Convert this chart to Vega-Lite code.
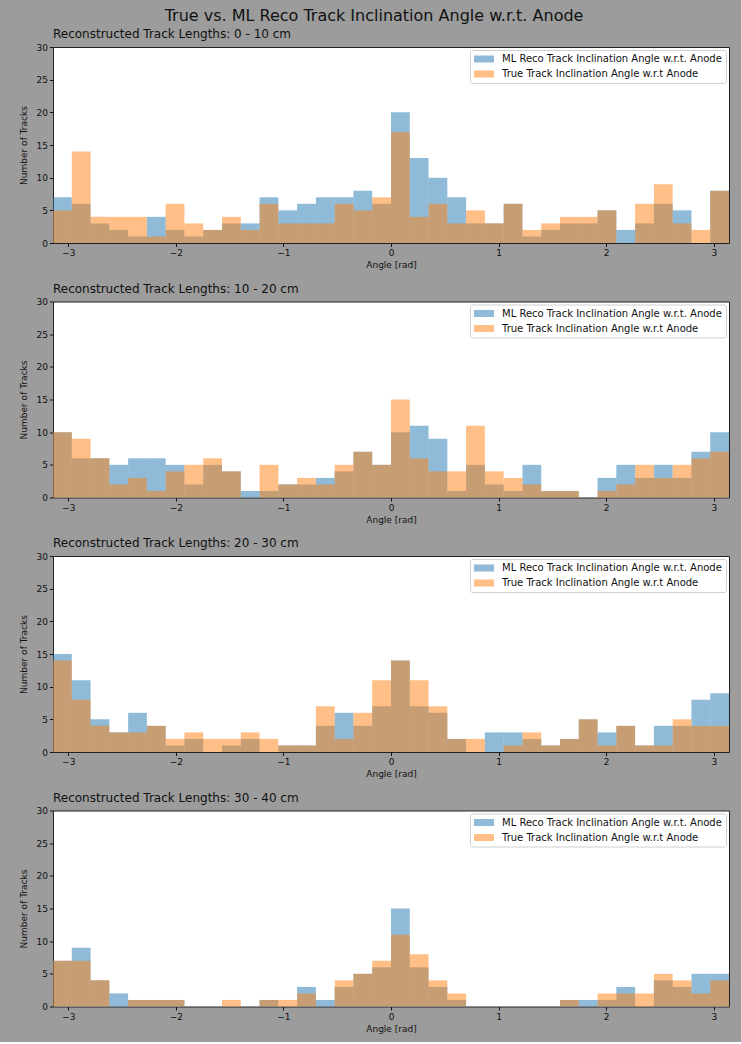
{
"$schema": "https://vega.github.io/schema/vega-lite/v6.json",
"background": "#9c9c9c",
"padding": {"left": 18, "top": 7, "right": 12, "bottom": 8},
"title": {"text": "True vs. ML Reco Track Inclination Angle w.r.t. Anode", "fontSize": 16, "font": "DejaVu Sans", "fontWeight": "normal", "color": "#111111", "anchor": "middle", "frame": "bounds", "offset": 4},
"spacing": 11.5,
"resolve": {"scale": {"color": "independent"}, "legend": {"color": "independent"}},
"data": {"values": [
{"p":1,"s":"ML","a":-3.14159,"b":-2.96706,"n":7},{"p":1,"s":"ML","a":-2.96706,"b":-2.79253,"n":6},{"p":1,"s":"ML","a":-2.79253,"b":-2.61799,"n":3},{"p":1,"s":"ML","a":-2.61799,"b":-2.44346,"n":2},{"p":1,"s":"ML","a":-2.44346,"b":-2.26893,"n":1},{"p":1,"s":"ML","a":-2.26893,"b":-2.0944,"n":4},{"p":1,"s":"ML","a":-2.0944,"b":-1.91986,"n":2},{"p":1,"s":"ML","a":-1.91986,"b":-1.74533,"n":1},{"p":1,"s":"ML","a":-1.74533,"b":-1.5708,"n":2},{"p":1,"s":"ML","a":-1.5708,"b":-1.39626,"n":3},{"p":1,"s":"ML","a":-1.39626,"b":-1.22173,"n":3},{"p":1,"s":"ML","a":-1.22173,"b":-1.0472,"n":7},{"p":1,"s":"ML","a":-1.0472,"b":-0.87266,"n":5},{"p":1,"s":"ML","a":-0.87266,"b":-0.69813,"n":6},{"p":1,"s":"ML","a":-0.69813,"b":-0.5236,"n":7},{"p":1,"s":"ML","a":-0.5236,"b":-0.34907,"n":7},{"p":1,"s":"ML","a":-0.34907,"b":-0.17453,"n":8},{"p":1,"s":"ML","a":-0.17453,"b":0,"n":6},{"p":1,"s":"ML","a":0,"b":0.17453,"n":20},{"p":1,"s":"ML","a":0.17453,"b":0.34907,"n":13},{"p":1,"s":"ML","a":0.34907,"b":0.5236,"n":10},{"p":1,"s":"ML","a":0.5236,"b":0.69813,"n":7},{"p":1,"s":"ML","a":0.69813,"b":0.87266,"n":3},{"p":1,"s":"ML","a":0.87266,"b":1.0472,"n":3},{"p":1,"s":"ML","a":1.0472,"b":1.22173,"n":6},{"p":1,"s":"ML","a":1.22173,"b":1.39626,"n":1},{"p":1,"s":"ML","a":1.39626,"b":1.5708,"n":2},{"p":1,"s":"ML","a":1.5708,"b":1.74533,"n":3},{"p":1,"s":"ML","a":1.74533,"b":1.91986,"n":3},{"p":1,"s":"ML","a":1.91986,"b":2.0944,"n":5},{"p":1,"s":"ML","a":2.0944,"b":2.26893,"n":2},{"p":1,"s":"ML","a":2.26893,"b":2.44346,"n":3},{"p":1,"s":"ML","a":2.44346,"b":2.61799,"n":6},{"p":1,"s":"ML","a":2.61799,"b":2.79253,"n":5},{"p":1,"s":"ML","a":2.79253,"b":2.96706,"n":0},{"p":1,"s":"ML","a":2.96706,"b":3.14159,"n":8},
{"p":1,"s":"T","a":-3.14159,"b":-2.96706,"n":5},{"p":1,"s":"T","a":-2.96706,"b":-2.79253,"n":14},{"p":1,"s":"T","a":-2.79253,"b":-2.61799,"n":4},{"p":1,"s":"T","a":-2.61799,"b":-2.44346,"n":4},{"p":1,"s":"T","a":-2.44346,"b":-2.26893,"n":4},{"p":1,"s":"T","a":-2.26893,"b":-2.0944,"n":1},{"p":1,"s":"T","a":-2.0944,"b":-1.91986,"n":6},{"p":1,"s":"T","a":-1.91986,"b":-1.74533,"n":3},{"p":1,"s":"T","a":-1.74533,"b":-1.5708,"n":2},{"p":1,"s":"T","a":-1.5708,"b":-1.39626,"n":4},{"p":1,"s":"T","a":-1.39626,"b":-1.22173,"n":2},{"p":1,"s":"T","a":-1.22173,"b":-1.0472,"n":6},{"p":1,"s":"T","a":-1.0472,"b":-0.87266,"n":3},{"p":1,"s":"T","a":-0.87266,"b":-0.69813,"n":3},{"p":1,"s":"T","a":-0.69813,"b":-0.5236,"n":3},{"p":1,"s":"T","a":-0.5236,"b":-0.34907,"n":6},{"p":1,"s":"T","a":-0.34907,"b":-0.17453,"n":5},{"p":1,"s":"T","a":-0.17453,"b":0,"n":7},{"p":1,"s":"T","a":0,"b":0.17453,"n":17},{"p":1,"s":"T","a":0.17453,"b":0.34907,"n":4},{"p":1,"s":"T","a":0.34907,"b":0.5236,"n":6},{"p":1,"s":"T","a":0.5236,"b":0.69813,"n":3},{"p":1,"s":"T","a":0.69813,"b":0.87266,"n":5},{"p":1,"s":"T","a":0.87266,"b":1.0472,"n":3},{"p":1,"s":"T","a":1.0472,"b":1.22173,"n":6},{"p":1,"s":"T","a":1.22173,"b":1.39626,"n":2},{"p":1,"s":"T","a":1.39626,"b":1.5708,"n":3},{"p":1,"s":"T","a":1.5708,"b":1.74533,"n":4},{"p":1,"s":"T","a":1.74533,"b":1.91986,"n":4},{"p":1,"s":"T","a":1.91986,"b":2.0944,"n":5},{"p":1,"s":"T","a":2.0944,"b":2.26893,"n":0},{"p":1,"s":"T","a":2.26893,"b":2.44346,"n":6},{"p":1,"s":"T","a":2.44346,"b":2.61799,"n":9},{"p":1,"s":"T","a":2.61799,"b":2.79253,"n":3},{"p":1,"s":"T","a":2.79253,"b":2.96706,"n":2},{"p":1,"s":"T","a":2.96706,"b":3.14159,"n":8},
{"p":2,"s":"ML","a":-3.14159,"b":-2.96706,"n":10},{"p":2,"s":"ML","a":-2.96706,"b":-2.79253,"n":6},{"p":2,"s":"ML","a":-2.79253,"b":-2.61799,"n":6},{"p":2,"s":"ML","a":-2.61799,"b":-2.44346,"n":5},{"p":2,"s":"ML","a":-2.44346,"b":-2.26893,"n":6},{"p":2,"s":"ML","a":-2.26893,"b":-2.0944,"n":6},{"p":2,"s":"ML","a":-2.0944,"b":-1.91986,"n":5},{"p":2,"s":"ML","a":-1.91986,"b":-1.74533,"n":2},{"p":2,"s":"ML","a":-1.74533,"b":-1.5708,"n":5},{"p":2,"s":"ML","a":-1.5708,"b":-1.39626,"n":4},{"p":2,"s":"ML","a":-1.39626,"b":-1.22173,"n":1},{"p":2,"s":"ML","a":-1.22173,"b":-1.0472,"n":1},{"p":2,"s":"ML","a":-1.0472,"b":-0.87266,"n":2},{"p":2,"s":"ML","a":-0.87266,"b":-0.69813,"n":2},{"p":2,"s":"ML","a":-0.69813,"b":-0.5236,"n":3},{"p":2,"s":"ML","a":-0.5236,"b":-0.34907,"n":4},{"p":2,"s":"ML","a":-0.34907,"b":-0.17453,"n":7},{"p":2,"s":"ML","a":-0.17453,"b":0,"n":5},{"p":2,"s":"ML","a":0,"b":0.17453,"n":10},{"p":2,"s":"ML","a":0.17453,"b":0.34907,"n":11},{"p":2,"s":"ML","a":0.34907,"b":0.5236,"n":9},{"p":2,"s":"ML","a":0.5236,"b":0.69813,"n":1},{"p":2,"s":"ML","a":0.69813,"b":0.87266,"n":5},{"p":2,"s":"ML","a":0.87266,"b":1.0472,"n":2},{"p":2,"s":"ML","a":1.0472,"b":1.22173,"n":1},{"p":2,"s":"ML","a":1.22173,"b":1.39626,"n":5},{"p":2,"s":"ML","a":1.39626,"b":1.5708,"n":1},{"p":2,"s":"ML","a":1.5708,"b":1.74533,"n":1},{"p":2,"s":"ML","a":1.74533,"b":1.91986,"n":0},{"p":2,"s":"ML","a":1.91986,"b":2.0944,"n":3},{"p":2,"s":"ML","a":2.0944,"b":2.26893,"n":5},{"p":2,"s":"ML","a":2.26893,"b":2.44346,"n":3},{"p":2,"s":"ML","a":2.44346,"b":2.61799,"n":5},{"p":2,"s":"ML","a":2.61799,"b":2.79253,"n":3},{"p":2,"s":"ML","a":2.79253,"b":2.96706,"n":7},{"p":2,"s":"ML","a":2.96706,"b":3.14159,"n":10},
{"p":2,"s":"T","a":-3.14159,"b":-2.96706,"n":10},{"p":2,"s":"T","a":-2.96706,"b":-2.79253,"n":9},{"p":2,"s":"T","a":-2.79253,"b":-2.61799,"n":6},{"p":2,"s":"T","a":-2.61799,"b":-2.44346,"n":2},{"p":2,"s":"T","a":-2.44346,"b":-2.26893,"n":3},{"p":2,"s":"T","a":-2.26893,"b":-2.0944,"n":1},{"p":2,"s":"T","a":-2.0944,"b":-1.91986,"n":4},{"p":2,"s":"T","a":-1.91986,"b":-1.74533,"n":5},{"p":2,"s":"T","a":-1.74533,"b":-1.5708,"n":6},{"p":2,"s":"T","a":-1.5708,"b":-1.39626,"n":4},{"p":2,"s":"T","a":-1.39626,"b":-1.22173,"n":0},{"p":2,"s":"T","a":-1.22173,"b":-1.0472,"n":5},{"p":2,"s":"T","a":-1.0472,"b":-0.87266,"n":2},{"p":2,"s":"T","a":-0.87266,"b":-0.69813,"n":3},{"p":2,"s":"T","a":-0.69813,"b":-0.5236,"n":2},{"p":2,"s":"T","a":-0.5236,"b":-0.34907,"n":5},{"p":2,"s":"T","a":-0.34907,"b":-0.17453,"n":7},{"p":2,"s":"T","a":-0.17453,"b":0,"n":5},{"p":2,"s":"T","a":0,"b":0.17453,"n":15},{"p":2,"s":"T","a":0.17453,"b":0.34907,"n":6},{"p":2,"s":"T","a":0.34907,"b":0.5236,"n":4},{"p":2,"s":"T","a":0.5236,"b":0.69813,"n":4},{"p":2,"s":"T","a":0.69813,"b":0.87266,"n":11},{"p":2,"s":"T","a":0.87266,"b":1.0472,"n":4},{"p":2,"s":"T","a":1.0472,"b":1.22173,"n":3},{"p":2,"s":"T","a":1.22173,"b":1.39626,"n":2},{"p":2,"s":"T","a":1.39626,"b":1.5708,"n":1},{"p":2,"s":"T","a":1.5708,"b":1.74533,"n":1},{"p":2,"s":"T","a":1.74533,"b":1.91986,"n":0},{"p":2,"s":"T","a":1.91986,"b":2.0944,"n":1},{"p":2,"s":"T","a":2.0944,"b":2.26893,"n":2},{"p":2,"s":"T","a":2.26893,"b":2.44346,"n":5},{"p":2,"s":"T","a":2.44346,"b":2.61799,"n":3},{"p":2,"s":"T","a":2.61799,"b":2.79253,"n":5},{"p":2,"s":"T","a":2.79253,"b":2.96706,"n":6},{"p":2,"s":"T","a":2.96706,"b":3.14159,"n":7},
{"p":3,"s":"ML","a":-3.14159,"b":-2.96706,"n":15},{"p":3,"s":"ML","a":-2.96706,"b":-2.79253,"n":11},{"p":3,"s":"ML","a":-2.79253,"b":-2.61799,"n":5},{"p":3,"s":"ML","a":-2.61799,"b":-2.44346,"n":3},{"p":3,"s":"ML","a":-2.44346,"b":-2.26893,"n":6},{"p":3,"s":"ML","a":-2.26893,"b":-2.0944,"n":4},{"p":3,"s":"ML","a":-2.0944,"b":-1.91986,"n":1},{"p":3,"s":"ML","a":-1.91986,"b":-1.74533,"n":2},{"p":3,"s":"ML","a":-1.74533,"b":-1.5708,"n":0},{"p":3,"s":"ML","a":-1.5708,"b":-1.39626,"n":1},{"p":3,"s":"ML","a":-1.39626,"b":-1.22173,"n":2},{"p":3,"s":"ML","a":-1.22173,"b":-1.0472,"n":0},{"p":3,"s":"ML","a":-1.0472,"b":-0.87266,"n":1},{"p":3,"s":"ML","a":-0.87266,"b":-0.69813,"n":1},{"p":3,"s":"ML","a":-0.69813,"b":-0.5236,"n":4},{"p":3,"s":"ML","a":-0.5236,"b":-0.34907,"n":6},{"p":3,"s":"ML","a":-0.34907,"b":-0.17453,"n":4},{"p":3,"s":"ML","a":-0.17453,"b":0,"n":7},{"p":3,"s":"ML","a":0,"b":0.17453,"n":14},{"p":3,"s":"ML","a":0.17453,"b":0.34907,"n":7},{"p":3,"s":"ML","a":0.34907,"b":0.5236,"n":6},{"p":3,"s":"ML","a":0.5236,"b":0.69813,"n":2},{"p":3,"s":"ML","a":0.69813,"b":0.87266,"n":0},{"p":3,"s":"ML","a":0.87266,"b":1.0472,"n":3},{"p":3,"s":"ML","a":1.0472,"b":1.22173,"n":3},{"p":3,"s":"ML","a":1.22173,"b":1.39626,"n":2},{"p":3,"s":"ML","a":1.39626,"b":1.5708,"n":1},{"p":3,"s":"ML","a":1.5708,"b":1.74533,"n":2},{"p":3,"s":"ML","a":1.74533,"b":1.91986,"n":5},{"p":3,"s":"ML","a":1.91986,"b":2.0944,"n":3},{"p":3,"s":"ML","a":2.0944,"b":2.26893,"n":4},{"p":3,"s":"ML","a":2.26893,"b":2.44346,"n":1},{"p":3,"s":"ML","a":2.44346,"b":2.61799,"n":4},{"p":3,"s":"ML","a":2.61799,"b":2.79253,"n":4},{"p":3,"s":"ML","a":2.79253,"b":2.96706,"n":8},{"p":3,"s":"ML","a":2.96706,"b":3.14159,"n":9},
{"p":3,"s":"T","a":-3.14159,"b":-2.96706,"n":14},{"p":3,"s":"T","a":-2.96706,"b":-2.79253,"n":8},{"p":3,"s":"T","a":-2.79253,"b":-2.61799,"n":4},{"p":3,"s":"T","a":-2.61799,"b":-2.44346,"n":3},{"p":3,"s":"T","a":-2.44346,"b":-2.26893,"n":3},{"p":3,"s":"T","a":-2.26893,"b":-2.0944,"n":4},{"p":3,"s":"T","a":-2.0944,"b":-1.91986,"n":2},{"p":3,"s":"T","a":-1.91986,"b":-1.74533,"n":3},{"p":3,"s":"T","a":-1.74533,"b":-1.5708,"n":2},{"p":3,"s":"T","a":-1.5708,"b":-1.39626,"n":2},{"p":3,"s":"T","a":-1.39626,"b":-1.22173,"n":3},{"p":3,"s":"T","a":-1.22173,"b":-1.0472,"n":2},{"p":3,"s":"T","a":-1.0472,"b":-0.87266,"n":1},{"p":3,"s":"T","a":-0.87266,"b":-0.69813,"n":1},{"p":3,"s":"T","a":-0.69813,"b":-0.5236,"n":7},{"p":3,"s":"T","a":-0.5236,"b":-0.34907,"n":2},{"p":3,"s":"T","a":-0.34907,"b":-0.17453,"n":6},{"p":3,"s":"T","a":-0.17453,"b":0,"n":11},{"p":3,"s":"T","a":0,"b":0.17453,"n":14},{"p":3,"s":"T","a":0.17453,"b":0.34907,"n":11},{"p":3,"s":"T","a":0.34907,"b":0.5236,"n":7},{"p":3,"s":"T","a":0.5236,"b":0.69813,"n":2},{"p":3,"s":"T","a":0.69813,"b":0.87266,"n":2},{"p":3,"s":"T","a":0.87266,"b":1.0472,"n":0},{"p":3,"s":"T","a":1.0472,"b":1.22173,"n":1},{"p":3,"s":"T","a":1.22173,"b":1.39626,"n":3},{"p":3,"s":"T","a":1.39626,"b":1.5708,"n":1},{"p":3,"s":"T","a":1.5708,"b":1.74533,"n":2},{"p":3,"s":"T","a":1.74533,"b":1.91986,"n":5},{"p":3,"s":"T","a":1.91986,"b":2.0944,"n":1},{"p":3,"s":"T","a":2.0944,"b":2.26893,"n":4},{"p":3,"s":"T","a":2.26893,"b":2.44346,"n":1},{"p":3,"s":"T","a":2.44346,"b":2.61799,"n":1},{"p":3,"s":"T","a":2.61799,"b":2.79253,"n":5},{"p":3,"s":"T","a":2.79253,"b":2.96706,"n":4},{"p":3,"s":"T","a":2.96706,"b":3.14159,"n":4},
{"p":4,"s":"ML","a":-3.14159,"b":-2.96706,"n":7},{"p":4,"s":"ML","a":-2.96706,"b":-2.79253,"n":9},{"p":4,"s":"ML","a":-2.79253,"b":-2.61799,"n":4},{"p":4,"s":"ML","a":-2.61799,"b":-2.44346,"n":2},{"p":4,"s":"ML","a":-2.44346,"b":-2.26893,"n":1},{"p":4,"s":"ML","a":-2.26893,"b":-2.0944,"n":1},{"p":4,"s":"ML","a":-2.0944,"b":-1.91986,"n":1},{"p":4,"s":"ML","a":-1.91986,"b":-1.74533,"n":0},{"p":4,"s":"ML","a":-1.74533,"b":-1.5708,"n":0},{"p":4,"s":"ML","a":-1.5708,"b":-1.39626,"n":0},{"p":4,"s":"ML","a":-1.39626,"b":-1.22173,"n":0},{"p":4,"s":"ML","a":-1.22173,"b":-1.0472,"n":1},{"p":4,"s":"ML","a":-1.0472,"b":-0.87266,"n":0},{"p":4,"s":"ML","a":-0.87266,"b":-0.69813,"n":3},{"p":4,"s":"ML","a":-0.69813,"b":-0.5236,"n":1},{"p":4,"s":"ML","a":-0.5236,"b":-0.34907,"n":3},{"p":4,"s":"ML","a":-0.34907,"b":-0.17453,"n":5},{"p":4,"s":"ML","a":-0.17453,"b":0,"n":6},{"p":4,"s":"ML","a":0,"b":0.17453,"n":15},{"p":4,"s":"ML","a":0.17453,"b":0.34907,"n":6},{"p":4,"s":"ML","a":0.34907,"b":0.5236,"n":3},{"p":4,"s":"ML","a":0.5236,"b":0.69813,"n":1},{"p":4,"s":"ML","a":0.69813,"b":0.87266,"n":0},{"p":4,"s":"ML","a":0.87266,"b":1.0472,"n":0},{"p":4,"s":"ML","a":1.0472,"b":1.22173,"n":0},{"p":4,"s":"ML","a":1.22173,"b":1.39626,"n":0},{"p":4,"s":"ML","a":1.39626,"b":1.5708,"n":0},{"p":4,"s":"ML","a":1.5708,"b":1.74533,"n":1},{"p":4,"s":"ML","a":1.74533,"b":1.91986,"n":1},{"p":4,"s":"ML","a":1.91986,"b":2.0944,"n":1},{"p":4,"s":"ML","a":2.0944,"b":2.26893,"n":3},{"p":4,"s":"ML","a":2.26893,"b":2.44346,"n":0},{"p":4,"s":"ML","a":2.44346,"b":2.61799,"n":4},{"p":4,"s":"ML","a":2.61799,"b":2.79253,"n":3},{"p":4,"s":"ML","a":2.79253,"b":2.96706,"n":5},{"p":4,"s":"ML","a":2.96706,"b":3.14159,"n":5},
{"p":4,"s":"T","a":-3.14159,"b":-2.96706,"n":7},{"p":4,"s":"T","a":-2.96706,"b":-2.79253,"n":7},{"p":4,"s":"T","a":-2.79253,"b":-2.61799,"n":4},{"p":4,"s":"T","a":-2.61799,"b":-2.44346,"n":0},{"p":4,"s":"T","a":-2.44346,"b":-2.26893,"n":1},{"p":4,"s":"T","a":-2.26893,"b":-2.0944,"n":1},{"p":4,"s":"T","a":-2.0944,"b":-1.91986,"n":1},{"p":4,"s":"T","a":-1.91986,"b":-1.74533,"n":0},{"p":4,"s":"T","a":-1.74533,"b":-1.5708,"n":0},{"p":4,"s":"T","a":-1.5708,"b":-1.39626,"n":1},{"p":4,"s":"T","a":-1.39626,"b":-1.22173,"n":0},{"p":4,"s":"T","a":-1.22173,"b":-1.0472,"n":1},{"p":4,"s":"T","a":-1.0472,"b":-0.87266,"n":1},{"p":4,"s":"T","a":-0.87266,"b":-0.69813,"n":2},{"p":4,"s":"T","a":-0.69813,"b":-0.5236,"n":0},{"p":4,"s":"T","a":-0.5236,"b":-0.34907,"n":4},{"p":4,"s":"T","a":-0.34907,"b":-0.17453,"n":5},{"p":4,"s":"T","a":-0.17453,"b":0,"n":7},{"p":4,"s":"T","a":0,"b":0.17453,"n":11},{"p":4,"s":"T","a":0.17453,"b":0.34907,"n":8},{"p":4,"s":"T","a":0.34907,"b":0.5236,"n":4},{"p":4,"s":"T","a":0.5236,"b":0.69813,"n":2},{"p":4,"s":"T","a":0.69813,"b":0.87266,"n":0},{"p":4,"s":"T","a":0.87266,"b":1.0472,"n":0},{"p":4,"s":"T","a":1.0472,"b":1.22173,"n":0},{"p":4,"s":"T","a":1.22173,"b":1.39626,"n":0},{"p":4,"s":"T","a":1.39626,"b":1.5708,"n":0},{"p":4,"s":"T","a":1.5708,"b":1.74533,"n":1},{"p":4,"s":"T","a":1.74533,"b":1.91986,"n":0},{"p":4,"s":"T","a":1.91986,"b":2.0944,"n":2},{"p":4,"s":"T","a":2.0944,"b":2.26893,"n":2},{"p":4,"s":"T","a":2.26893,"b":2.44346,"n":2},{"p":4,"s":"T","a":2.44346,"b":2.61799,"n":5},{"p":4,"s":"T","a":2.61799,"b":2.79253,"n":4},{"p":4,"s":"T","a":2.79253,"b":2.96706,"n":2},{"p":4,"s":"T","a":2.96706,"b":3.14159,"n":4}
]},
"vconcat": [
{"title": {"text": "Reconstructed Track Lengths: 0 - 10 cm"}, "width": 676, "height": 196,
 "transform": [{"filter": {"field": "p", "equal": 1}}],
 "mark": {"type": "bar", "opacity": 0.5},
 "encoding": {
  "x": {"field": "a", "type": "quantitative", "scale": {"domain": [-3.14159, 3.14159], "nice": false, "zero": false}, "axis": {"values": [-3,-2,-1,0,1,2,3], "format": "d", "title": "Angle [rad]"}},
  "x2": {"field": "b"},
  "y": {"field": "n", "type": "quantitative", "stack": null, "scale": {"domain": [0, 30], "nice": false}, "axis": {"values": [0,5,10,15,20,25,30], "title": "Number of Tracks", "titlePadding": 8}},
  "y2": {"datum": 0},
  "color": {"field": "s", "type": "nominal", "scale": {"domain": ["ML", "T"], "range": ["#1f77b4", "#ff7f0e"]}, "legend": {"title": null, "labelExpr": "datum.label == 'ML' ? 'ML Reco Track Inclination Angle w.r.t. Anode' : 'True Track Inclination Angle w.r.t Anode'"}}
 }},
{"title": {"text": "Reconstructed Track Lengths: 10 - 20 cm"}, "width": 676, "height": 196,
 "transform": [{"filter": {"field": "p", "equal": 2}}],
 "mark": {"type": "bar", "opacity": 0.5},
 "encoding": {
  "x": {"field": "a", "type": "quantitative", "scale": {"domain": [-3.14159, 3.14159], "nice": false, "zero": false}, "axis": {"values": [-3,-2,-1,0,1,2,3], "format": "d", "title": "Angle [rad]"}},
  "x2": {"field": "b"},
  "y": {"field": "n", "type": "quantitative", "stack": null, "scale": {"domain": [0, 30], "nice": false}, "axis": {"values": [0,5,10,15,20,25,30], "title": "Number of Tracks", "titlePadding": 8}},
  "y2": {"datum": 0},
  "color": {"field": "s", "type": "nominal", "scale": {"domain": ["ML", "T"], "range": ["#1f77b4", "#ff7f0e"]}, "legend": {"title": null, "labelExpr": "datum.label == 'ML' ? 'ML Reco Track Inclination Angle w.r.t. Anode' : 'True Track Inclination Angle w.r.t Anode'"}}
 }},
{"title": {"text": "Reconstructed Track Lengths: 20 - 30 cm"}, "width": 676, "height": 196,
 "transform": [{"filter": {"field": "p", "equal": 3}}],
 "mark": {"type": "bar", "opacity": 0.5},
 "encoding": {
  "x": {"field": "a", "type": "quantitative", "scale": {"domain": [-3.14159, 3.14159], "nice": false, "zero": false}, "axis": {"values": [-3,-2,-1,0,1,2,3], "format": "d", "title": "Angle [rad]"}},
  "x2": {"field": "b"},
  "y": {"field": "n", "type": "quantitative", "stack": null, "scale": {"domain": [0, 30], "nice": false}, "axis": {"values": [0,5,10,15,20,25,30], "title": "Number of Tracks", "titlePadding": 8}},
  "y2": {"datum": 0},
  "color": {"field": "s", "type": "nominal", "scale": {"domain": ["ML", "T"], "range": ["#1f77b4", "#ff7f0e"]}, "legend": {"title": null, "labelExpr": "datum.label == 'ML' ? 'ML Reco Track Inclination Angle w.r.t. Anode' : 'True Track Inclination Angle w.r.t Anode'"}}
 }},
{"title": {"text": "Reconstructed Track Lengths: 30 - 40 cm"}, "width": 676, "height": 196,
 "transform": [{"filter": {"field": "p", "equal": 4}}],
 "mark": {"type": "bar", "opacity": 0.5},
 "encoding": {
  "x": {"field": "a", "type": "quantitative", "scale": {"domain": [-3.14159, 3.14159], "nice": false, "zero": false}, "axis": {"values": [-3,-2,-1,0,1,2,3], "format": "d", "title": "Angle [rad]"}},
  "x2": {"field": "b"},
  "y": {"field": "n", "type": "quantitative", "stack": null, "scale": {"domain": [0, 30], "nice": false}, "axis": {"values": [0,5,10,15,20,25,30], "title": "Number of Tracks", "titlePadding": 8}},
  "y2": {"datum": 0},
  "color": {"field": "s", "type": "nominal", "scale": {"domain": ["ML", "T"], "range": ["#1f77b4", "#ff7f0e"]}, "legend": {"title": null, "labelExpr": "datum.label == 'ML' ? 'ML Reco Track Inclination Angle w.r.t. Anode' : 'True Track Inclination Angle w.r.t Anode'"}}
 }}
],
"config": {
 "font": "DejaVu Sans",
 "view": {"stroke": "#222222", "strokeWidth": 1, "fill": "white"},
 "title": {"fontSize": 12, "fontWeight": "normal", "anchor": "start", "frame": "group", "color": "#111111", "offset": 2, "font": "DejaVu Sans"},
 "axis": {"labelFontSize": 9, "titleFontSize": 9, "titleFontWeight": "normal", "labelColor": "#111111", "titleColor": "#111111", "tickColor": "#111111", "tickSize": 3.5, "domain": false, "grid": false, "labelPadding": 2, "titlePadding": 3, "labelFont": "DejaVu Sans", "titleFont": "DejaVu Sans"},
 "legend": {"orient": "top-right", "offset": 3, "fillColor": "white", "strokeColor": "#d0d0d0", "padding": 4, "cornerRadius": 2, "labelFontSize": 10, "labelColor": "#111111", "labelFont": "DejaVu Sans", "symbolType": "M-2,-0.7L2,-0.7L2,0.7L-2,0.7Z", "symbolSize": 100, "symbolOffset": 5, "labelOffset": 13, "symbolOpacity": 0.5, "symbolStrokeWidth": 0, "rowPadding": 5, "labelLimit": 400}
}
}
